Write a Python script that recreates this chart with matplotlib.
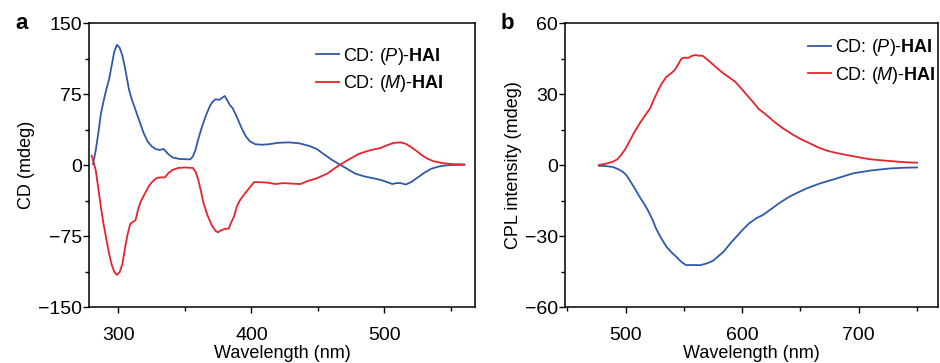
import matplotlib
matplotlib.use('Agg')
import matplotlib.pyplot as plt
from matplotlib.ticker import MultipleLocator

plt.rcParams['font.family'] = ['Liberation Sans', 'DejaVu Sans']
plt.rcParams['mathtext.fontset'] = 'custom'
plt.rcParams['mathtext.rm'] = 'Liberation Sans'
plt.rcParams['mathtext.it'] = 'Liberation Sans:italic'
plt.rcParams['mathtext.bf'] = 'Liberation Sans:bold'

BLUE = '#2f5aa8'
RED = '#e8232b'

# panel a: CD spectra
cd_p_wl = [281, 283, 285, 287, 289, 291, 293, 295, 297, 299, 301, 303, 305, 308, 310, 313,
           316, 319, 322, 325, 328, 331, 334, 336, 338, 341, 346, 354, 356, 358, 360, 363,
           366, 369, 371, 373, 376, 378, 380, 382, 384, 386, 389, 393, 396, 399, 403, 408,
           413, 420, 428, 436, 444, 449, 455, 460, 466, 472, 478, 485, 492, 498, 503, 506,
           509, 512, 516, 520, 525, 530, 535, 540, 545, 550, 560]
cd_p = [1, 15, 34, 55, 68, 80, 90, 105, 120, 127, 124, 116, 103, 80, 70, 58,
        46, 34, 25, 20, 17, 16, 17, 14, 11, 8, 6.5, 6, 9, 16, 27, 41,
        53, 63, 67, 69.5, 69, 71, 73, 68, 63, 60, 51, 38, 30, 25, 22, 21.5,
        22, 23.5, 24, 23, 20, 17, 11, 6, 1, -4, -9, -12, -14, -16, -18.5, -20,
        -19, -19, -20.5, -18, -13, -8, -4, -1.8, -0.5, 0, 0.5]
cd_m_wl = [280, 281, 283, 285, 287, 289, 291, 293, 295, 297, 299, 301, 303, 305, 307, 309,
           311, 313, 315, 317, 320, 323, 326, 329, 332, 335, 338, 341, 345, 350, 356, 358,
           360, 362, 364, 367, 370, 373, 375, 377, 380, 383, 385, 387, 389, 391, 394, 398,
           402, 406, 412, 418, 424, 430, 437, 442, 449, 457, 464, 472, 481, 490, 497, 502,
           507, 512, 516, 520, 524, 528, 532, 537, 545, 552, 560]
cd_m = [10, 5, -5, -25, -45, -63, -78, -93, -105, -113, -116, -113, -105, -88, -73, -62,
        -60, -58, -46, -38, -30, -22, -17, -13.5, -13, -13, -8, -5, -3, -2.5, -3, -7,
        -15, -27, -40, -53, -63, -69.5, -71, -69, -67.5, -67, -60, -54, -44, -38, -32, -25,
        -18, -18, -18.5, -20, -19, -19.5, -20, -17, -14, -9, -2, 5, 12, 16, 18, 21,
        23.5, 24, 22.5, 19, 15, 10.5, 7, 4, 1.8, 1, 0.5]

# panel b: CPL spectra
cpl_p_wl = [477, 483, 489, 494, 498, 501, 504, 508, 512, 516, 519, 523, 526, 530, 535, 540,
            544, 548, 552, 558, 564, 570, 575, 580, 584, 590, 595, 600, 606, 612, 618, 625,
            632, 640, 648, 656, 667, 680, 695, 710, 727, 740, 750]
cpl_p = [-0.3, -0.4, -0.8, -1.8, -3, -4.5, -6.8, -10, -13.4, -16.5, -19, -23, -26.7, -30.5,
         -34.5, -37.2, -39, -41, -42.3, -42.2, -42.3, -41.5, -40.4, -38.3, -36.6, -33, -30.3,
         -27.5, -24.6, -22.5, -21, -18.5, -16, -13.5, -11.5, -9.7, -7.7, -5.8, -3.5, -2.3,
         -1.4, -1.1, -1.0]
cpl_m_wl = [477, 483, 489, 493, 496, 500, 503, 507, 512, 516, 521, 524, 528, 531, 535, 539,
            542, 545, 548, 551, 554, 557, 560, 563, 566, 569, 572, 576, 580, 584, 589, 594,
            599, 604, 609, 614, 620, 627, 635, 644, 651, 658, 665, 672, 680, 689, 698, 709,
            720, 732, 740, 750]
cpl_m = [0, 0.6, 1.4, 2.5, 4.2, 7, 9.8, 13.5, 17.6, 20.5, 24, 27.5, 31.7, 34.5, 37.3, 38.8,
         40.1, 42.5, 45.1, 45.4, 45.3, 46.2, 46.5, 46.2, 46.2, 45, 43.8, 42, 40.3, 38.7, 37,
         35.2, 32.5, 29.6, 26.8, 23.8, 21.5, 18.5, 15.5, 12.7, 10.8, 9.2, 7.5, 6.2, 5.2, 4.3,
         3.5, 2.5, 2, 1.5, 1.2, 1.0]

labels = [r'CD: ($\mathit{P}$)-$\mathbf{HAI}$', r'CD: ($\mathit{M}$)-$\mathbf{HAI}$']

fig = plt.figure(figsize=(9.4, 3.63), dpi=100)
ax1 = fig.add_axes([0.0947, 0.154, 0.4106, 0.7824])
ax2 = fig.add_axes([0.6011, 0.154, 0.3968, 0.7824])

ax1.plot(cd_p_wl, cd_p, color=BLUE, lw=1.3, label=labels[0])
ax1.plot(cd_m_wl, cd_m, color=RED, lw=1.3, label=labels[1])
ax1.set_xlim(278, 568)
ax1.set_ylim(-150, 150)
ax1.xaxis.set_major_locator(MultipleLocator(100))
ax1.xaxis.set_minor_locator(MultipleLocator(50))
ax1.yaxis.set_major_locator(MultipleLocator(75))
ax1.yaxis.set_minor_locator(MultipleLocator(37.5))
ax1.set_xlabel('Wavelength (nm)', fontsize=13, labelpad=1)
ax1.set_ylabel('CD (mdeg)', fontsize=13, labelpad=2)

ax2.plot(cpl_p_wl, cpl_p, color=BLUE, lw=1.3, label=labels[0])
ax2.plot(cpl_m_wl, cpl_m, color=RED, lw=1.3, label=labels[1])
ax2.set_xlim(448, 768)
ax2.set_ylim(-60, 60)
ax2.xaxis.set_major_locator(MultipleLocator(100))
ax2.xaxis.set_minor_locator(MultipleLocator(50))
ax2.yaxis.set_major_locator(MultipleLocator(30))
ax2.yaxis.set_minor_locator(MultipleLocator(15))
ax2.set_xlabel('Wavelength (nm)', fontsize=13, labelpad=1)
ax2.set_ylabel('CPL intensity (mdeg)', fontsize=13, labelpad=2)

legend_anchor = {ax1: (0.588, 0.92), ax2: (0.651, 0.95)}
for ax in (ax1, ax2):
    for s in ax.spines.values():
        s.set_linewidth(1.1)
    ax.tick_params(which='both', direction='out', labelsize=14, width=1.0, top=False, right=False)
    ax.tick_params(which='major', length=4)
    ax.tick_params(which='minor', length=3)
    ax.tick_params(axis='x', which='major', pad=10)
    ax.tick_params(axis='y', which='major', pad=1)
    ax.legend(loc='upper left', frameon=False, fontsize=13, handlelength=1.3,
              handletextpad=0.2, labelspacing=0.35, borderpad=0, borderaxespad=0,
              bbox_to_anchor=legend_anchor[ax])

fig.text(0.016, 0.935, 'a', fontsize=16, fontweight='bold', va='center')
fig.text(0.532, 0.935, 'b', fontsize=16, fontweight='bold', va='center')

fig.savefig('out.png', dpi=100)
